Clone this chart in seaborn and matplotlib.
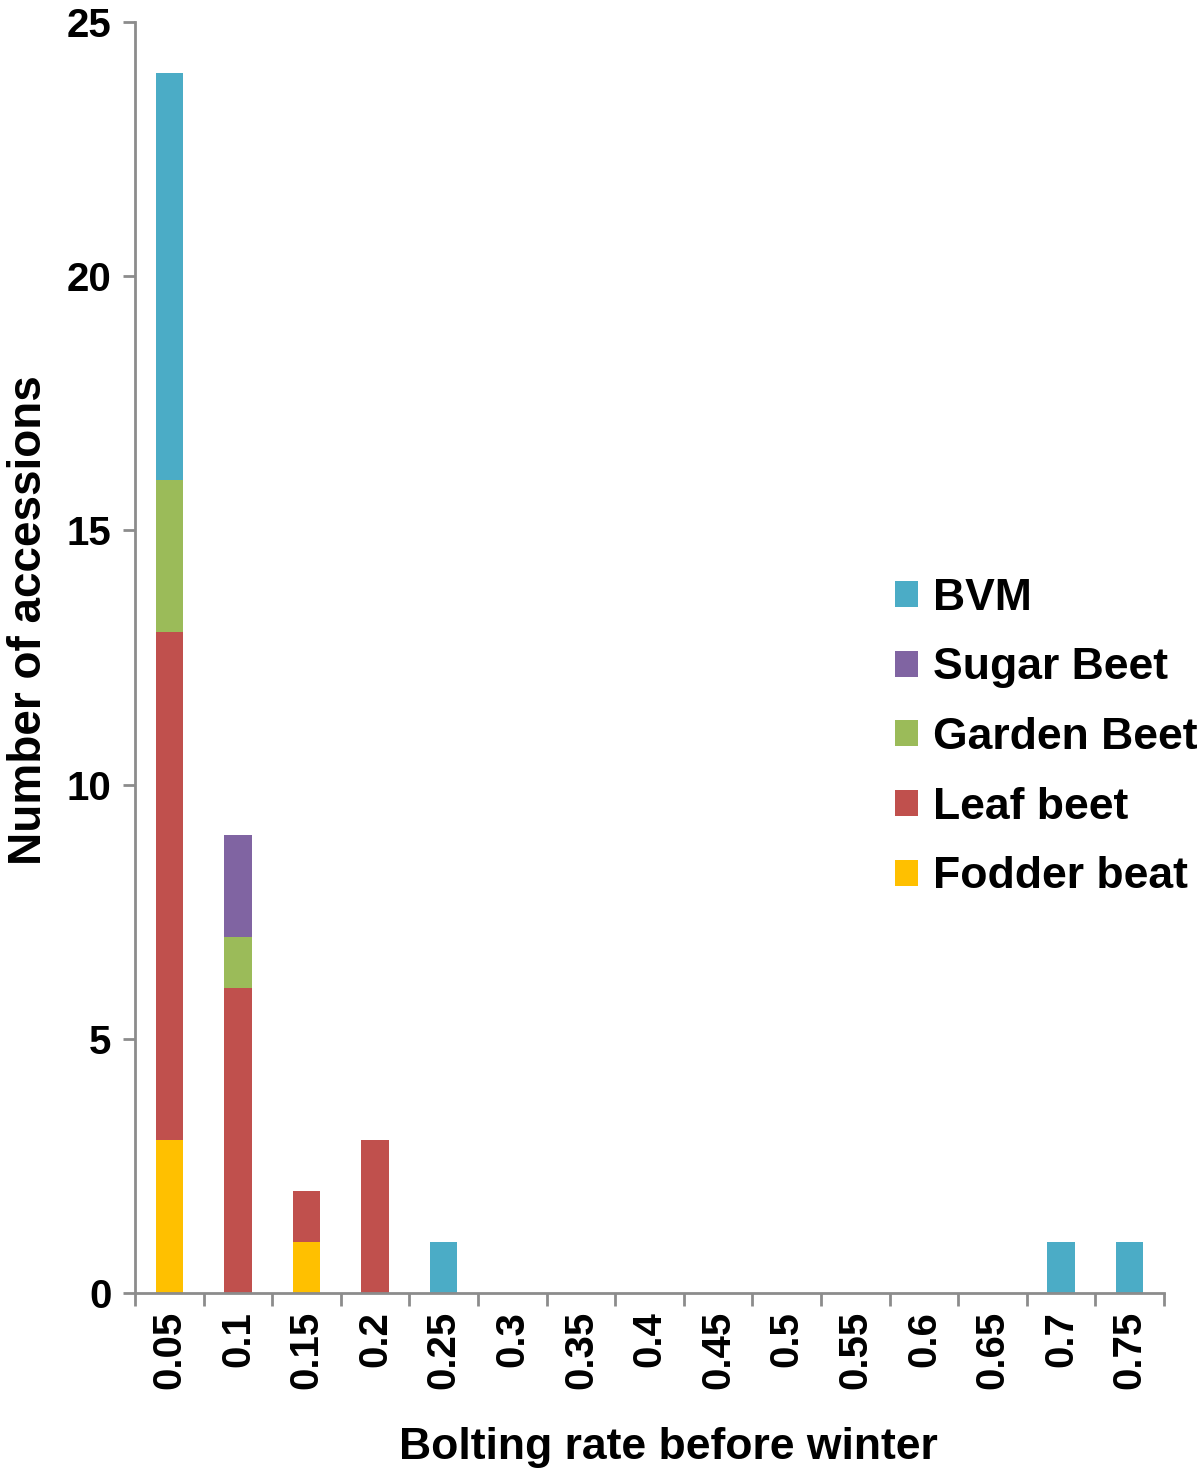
import numpy as np
import pandas as pd
import matplotlib
matplotlib.use("Agg")
import matplotlib.pyplot as plt
import seaborn as sns
from matplotlib.patches import Patch
from matplotlib.ticker import FixedLocator

categories = ["0.05", "0.1", "0.15", "0.2", "0.25", "0.3", "0.35", "0.4",
              "0.45", "0.5", "0.55", "0.6", "0.65", "0.7", "0.75"]
fodder = [3, 0, 1, 0, 0, 0, 0, 0, 0, 0, 0, 0, 0, 0, 0]
leaf   = [10, 6, 1, 3, 0, 0, 0, 0, 0, 0, 0, 0, 0, 0, 0]
garden = [3, 1, 0, 0, 0, 0, 0, 0, 0, 0, 0, 0, 0, 0, 0]
sugar  = [0, 2, 0, 0, 0, 0, 0, 0, 0, 0, 0, 0, 0, 0, 0]
bvm    = [8, 0, 0, 0, 1, 0, 0, 0, 0, 0, 0, 0, 0, 1, 1]

series_names = ["Fodder beat", "Leaf beet", "Garden Beet", "Sugar Beet", "BVM"]
series_vals = [fodder, leaf, garden, sugar, bvm]
colors = {"BVM": "#4BACC6", "Sugar Beet": "#8064A2", "Garden Beet": "#9BBB59",
          "Leaf beet": "#C0504D", "Fodder beat": "#FFC000"}

sns.set_style("white")
plt.rcParams["font.family"] = ["Liberation Sans", "DejaVu Sans"]
plt.rcParams["font.weight"] = "bold"
plt.rcParams["text.color"] = "black"
plt.rcParams["axes.labelcolor"] = "black"
plt.rcParams["xtick.color"] = "black"
plt.rcParams["ytick.color"] = "black"

fig = plt.figure(figsize=(12, 14.68), dpi=100)
ax = fig.add_axes([0.1125, 0.1192, 0.8575, 0.8658])

cum = np.cumsum(np.array(series_vals), axis=0)
# draw from top series (total) down so lower segments overlay
for i in range(len(series_names) - 1, -1, -1):
    df = pd.DataFrame({"cat": categories, "val": cum[i]})
    sns.barplot(data=df, x="cat", y="val", order=categories,
                color=colors[series_names[i]], saturation=1, width=0.4,
                linewidth=0, ax=ax)

ax.set_xlim(-0.5, len(categories) - 0.5)
ax.set_ylim(0, 25)
ax.set_yticks([0, 5, 10, 15, 20, 25])
ax.set_yticklabels(["0", "5", "10", "15", "20", "25"], fontsize=29, fontweight="bold", color="black")
ax.set_xticks(range(len(categories)))
ax.set_xticklabels(categories, rotation=90, fontsize=29, fontweight="bold", color="black")
ax.xaxis.set_minor_locator(FixedLocator(np.arange(-0.5, len(categories), 1.0)))
ax.tick_params(axis="x", which="major", length=0, pad=13)
ax.tick_params(axis="x", which="minor", length=9, width=2, color="#8c8c8c", direction="out")
ax.tick_params(axis="y", which="major", length=9, width=2, color="#8c8c8c", direction="out", pad=8)
ax.xaxis.set_ticks_position("bottom")
ax.yaxis.set_ticks_position("left")

for s in ["top", "right"]:
    ax.spines[s].set_visible(False)
for s in ["left", "bottom"]:
    ax.spines[s].set_color("#8c8c8c")
    ax.spines[s].set_linewidth(2)

ax.set_xlabel("Bolting rate before winter", fontsize=32, fontweight="bold", labelpad=27, color="black")
ax.set_ylabel("Number of accessions", fontsize=33, fontweight="bold", labelpad=11, color="black")
ax.xaxis.label.set_x(0.518)
ax.yaxis.label.set_y(0.5295)

handles = [Patch(facecolor=colors[n], edgecolor="none", label=n)
           for n in ["BVM", "Sugar Beet", "Garden Beet", "Leaf beet", "Fodder beat"]]
fig.legend(handles=handles, loc="upper left", bbox_to_anchor=(0.746, 0.6065),
           frameon=False, prop={"size": 32, "weight": "bold"},
           handlelength=0.52, handleheight=0.52, handletextpad=0.32,
           labelspacing=0.645, borderaxespad=0, borderpad=0)

fig.savefig("out.png", dpi=100)
